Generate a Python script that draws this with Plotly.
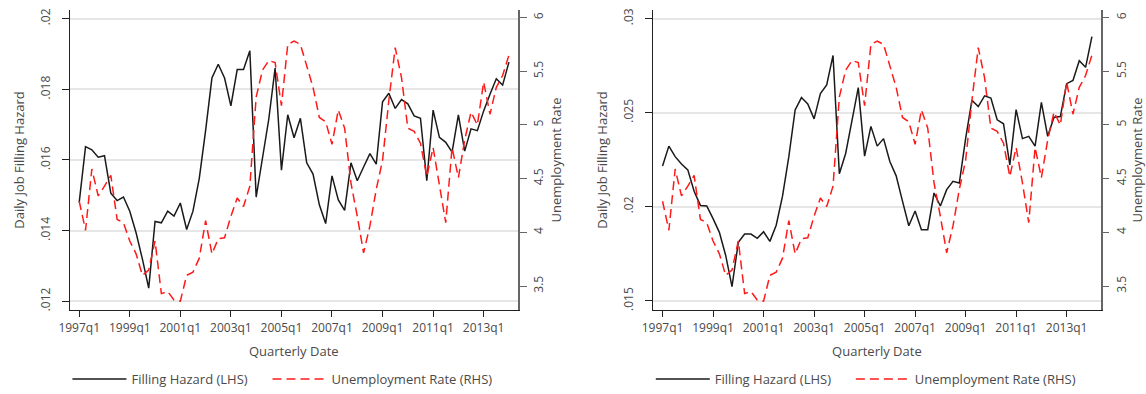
import plotly.graph_objects as go

# Quarterly index: 0 = 1997q1 ... 68 = 2014q1
quarters = list(range(69))
tick_pos = [0, 8, 16, 24, 32, 40, 48, 56, 64]
tick_txt = ["1997q1", "1999q1", "2001q1", "2003q1", "2005q1",
            "2007q1", "2009q1", "2011q1", "2013q1"]

# Daily job filling hazard, first measure (left panel)
hazard_a = [
    .01480, .01638, .01629, .01608, .01612, .01506, .01485, .01495, .01455, .01394,
    .01319, .01237, .01426, .01422, .01455, .01441, .01478, .01403, .01455, .01548,
    .01683, .01832, .01871, .01832, .01753, .01856, .01856, .01909, .01495, .01608,
    .01716, .01860, .01571, .01728, .01663, .01718, .01592, .01560, .01473, .01420,
    .01555, .01487, .01457, .01592, .01541, .01580, .01618, .01588, .01765, .01789,
    .01746, .01771, .01759, .01725, .01718, .01541, .01741, .01664, .01650, .01622,
    .01728, .01625, .01688, .01683, .01739, .01786, .01830, .01812, .01877,
]

# Daily job filling hazard, second measure (right panel)
hazard_b = [
    .02217, .02322, .02266, .02227, .02196, .02082, .02007, .02004, .01937, .01864,
    .01741, .01575, .01811, .01855, .01855, .01832, .01867, .01816, .01902, .02056,
    .02266, .02514, .02580, .02546, .02467, .02601, .02647, .02804, .02175, .02283,
    .02458, .02633, .02269, .02427, .02322, .02362, .02240, .02164, .02030, .01899,
    .01977, .01878, .01878, .02073, .02004, .02091, .02135, .02126, .02362, .02566,
    .02532, .02589, .02577, .02462, .02441, .02222, .02516, .02362, .02374, .02322,
    .02554, .02374, .02476, .02479, .02654, .02671, .02776, .02741, .02904,
]

# Unemployment rate (%)
unemp = [
    4.29, 4.02, 4.59, 4.34, 4.43, 4.53, 4.12, 4.09, 3.92, 3.80,
    3.60, 3.65, 3.92, 3.43, 3.45, 3.37, 3.36, 3.60, 3.63, 3.76,
    4.11, 3.80, 3.94, 3.95, 4.15, 4.32, 4.24, 4.43, 5.26, 5.51,
    5.60, 5.58, 5.18, 5.75, 5.78, 5.75, 5.55, 5.35, 5.07, 5.03,
    4.82, 5.14, 4.97, 4.46, 4.15, 3.81, 4.06, 4.40, 4.67, 5.23,
    5.72, 5.44, 4.97, 4.94, 4.83, 4.52, 4.79, 4.46, 4.09, 4.79,
    4.51, 4.86, 5.12, 5.00, 5.40, 5.10, 5.35, 5.46, 5.65,
]

left_ticks = {"a": ([.012, .014, .016, .018, .02], [".012", ".014", ".016", ".018", ".02"]),
              "b": ([.015, .02, .025, .03], [".015", ".02", ".025", ".03"])}
left_range = {"a": [.01175, .02025], "b": [.01451, .03046]}
ur_ticks = [3.5, 4, 4.5, 5, 5.5, 6]
ur_text = ["3.5", "4", "4.5", "5", "5.5", "6"]

W, H = 1146, 394
FONT = "Open Sans"
TXT = "#4a4a4a"
LINE_BLACK = "#1a1a1a"
RED = "#ff1a1a"

# Each panel: plot-area edges and left edges of its two legend entries (px)
panels = [
    {"key": "a", "haz": hazard_a, "x0": 59.3, "x1": 511.7, "lg": (71, 273)},
    {"key": "b", "haz": hazard_b, "x0": 648.3, "x1": 1100.3, "lg": (660, 862)},
]

fig = go.Figure()
y_dom = [(H - 312) / H, (H - 8) / H]
LG_PAD = 14  # offset between legend box edge and its line sample


def legend_box(px):
    return dict(orientation="h", x=(px - LG_PAD) / W, xanchor="left",
                y=(H - 382) / H, yanchor="middle", itemwidth=54,
                font=dict(family=FONT, size=13, color=TXT),
                bgcolor="rgba(0,0,0,0)")


for n, p in enumerate(panels):
    xa = "x" if n == 0 else "x2"
    yl = "y" if n == 0 else "y3"
    yr = "y2" if n == 0 else "y4"
    lg_h = "legend" if n == 0 else "legend3"
    lg_u = "legend2" if n == 0 else "legend4"
    fig.add_trace(go.Scatter(x=quarters, y=p["haz"], mode="lines", xaxis=xa, yaxis=yl,
                             name="Filling Hazard (LHS)", legend=lg_h,
                             line=dict(color=LINE_BLACK, width=1.5)))
    fig.add_trace(go.Scatter(x=quarters, y=unemp, mode="lines", xaxis=xa, yaxis=yr,
                             name="Unemployment Rate (RHS)", legend=lg_u,
                             line=dict(color=RED, width=1.5, dash="9px,5px")))

    dom = [p["x0"] / W, p["x1"] / W]
    xname = "xaxis" if n == 0 else "xaxis2"
    ylname = "yaxis" if n == 0 else "yaxis3"
    yrname = "yaxis2" if n == 0 else "yaxis4"
    tv, tt = left_ticks[p["key"]]
    fig.update_layout(**{
        xname: dict(domain=dom, anchor=yl, range=[-1.5, 69.4], tickvals=tick_pos,
                    ticktext=tick_txt, showgrid=False, zeroline=False,
                    showline=True, linecolor="#222", linewidth=1.2,
                    ticks="outside", ticklen=6, tickcolor="#222",
                    tickfont=dict(family=FONT, size=12, color=TXT),
                    title=dict(text="Quarterly Date", standoff=12,
                               font=dict(family=FONT, size=13, color=TXT))),
        ylname: dict(domain=y_dom, anchor=xa, range=left_range[p["key"]],
                     tickvals=tv, ticktext=tt, tickangle=-90, ticklabelstandoff=7,
                     showgrid=True, gridcolor="#e6e6e6", gridwidth=1.5, zeroline=False,
                     showline=True, linecolor="#222", linewidth=1.2,
                     ticks="outside", ticklen=7, tickcolor="#222",
                     tickfont=dict(family=FONT, size=12, color=TXT),
                     title=dict(text="Daily Job Filling Hazard", standoff=9,
                                font=dict(family=FONT, size=13, color=TXT))),
        yrname: dict(domain=y_dom, anchor=xa, overlaying=yl, side="right",
                     range=[3.277, 6.071], tickvals=ur_ticks, ticktext=ur_text,
                     tickangle=-90, ticklabelstandoff=2, showgrid=False, zeroline=False,
                     showline=True, linecolor="#666", linewidth=1.5,
                     ticks="outside", ticklen=7, tickcolor="#666",
                     tickfont=dict(family=FONT, size=12, color=TXT),
                     title=dict(text="Unemployment Rate", standoff=6,
                                font=dict(family=FONT, size=13, color=TXT))),
        lg_h: legend_box(p["lg"][0]),
        lg_u: legend_box(p["lg"][1]),
    })

fig.update_layout(width=W, height=H, margin=dict(l=0, r=0, t=0, b=0),
                  paper_bgcolor="white", plot_bgcolor="white", showlegend=True)

fig.write_html("out.html")
